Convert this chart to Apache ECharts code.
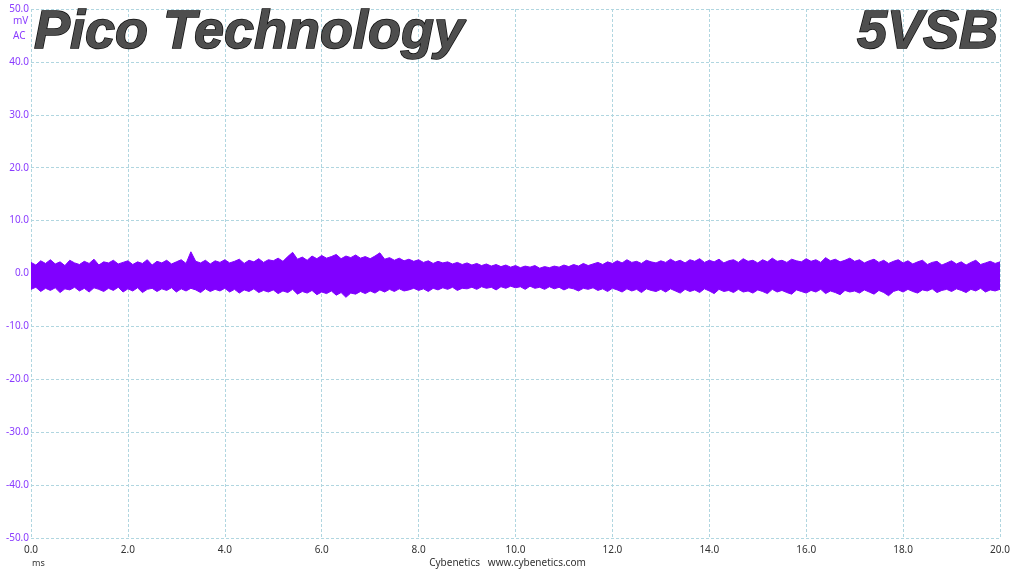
<!DOCTYPE html>
<html>
<head>
<meta charset="utf-8">
<script src="https://cdn.jsdelivr.net/npm/echarts@6/dist/echarts.min.js"></script>
<style>
html,body{margin:0;padding:0;background:#fff;}
#chart{width:1015px;height:571px;}
</style>
</head>
<body>
<div id="chart"></div>
<script>
// Sample spacing of the envelope readings (ms)
const sampleStepMs = 0.1;
// Upper envelope of the ripple band (mV), read every 0.1 ms from 0 to 20 ms
const upperEnvelope = [
  2.1,1.6,2.4,1.9,2.6,1.8,2.2,1.5,2.5,2.0,
  1.7,2.3,1.9,2.7,1.6,2.2,2.0,2.5,1.8,2.1,
  2.4,1.7,2.2,1.9,2.6,1.6,2.3,2.0,2.5,1.8,
  2.2,2.6,1.9,4.1,2.3,2.0,2.5,1.8,2.4,2.1,
  2.6,2.0,2.3,2.7,1.9,2.5,2.2,2.8,2.1,2.6,
  2.4,2.9,2.3,3.2,4.0,2.7,3.1,2.5,3.3,2.8,
  3.4,2.9,3.2,3.6,2.8,3.3,3.0,3.5,2.9,3.2,
  2.8,3.3,3.9,2.7,3.0,2.5,2.9,2.4,2.7,2.3,
  2.6,2.1,2.4,1.9,2.3,2.0,2.2,1.8,2.1,1.7,
  2.0,1.6,1.9,1.5,1.8,1.4,1.7,1.3,1.6,1.2,
  1.5,1.1,1.4,1.2,1.5,1.0,1.3,1.1,1.4,1.2,
  1.6,1.3,1.7,1.4,1.9,1.5,1.8,2.1,1.7,2.2,
  1.9,2.4,2.0,2.6,2.1,2.3,1.9,2.5,2.2,2.0,
  2.4,2.1,2.7,2.2,2.5,2.0,2.6,2.3,2.8,2.1,
  2.5,2.2,2.7,2.0,2.4,2.6,2.1,2.8,2.3,2.5,
  2.0,2.6,2.2,2.9,2.3,2.5,2.1,2.7,2.4,2.2,
  2.8,2.3,2.6,2.1,3.0,2.4,2.7,2.2,2.5,2.9,
  2.3,2.6,2.0,2.4,2.7,2.1,2.5,1.9,2.3,2.6,
  2.0,2.4,1.8,2.2,2.5,1.7,2.1,2.3,1.6,2.0,
  2.4,1.8,2.2,1.6,2.1,2.5,1.7,2.0,2.3,1.9,
  2.2
];
// Lower envelope of the ripple band (mV)
const lowerEnvelope = [
  -3.0,-2.6,-3.4,-2.8,-3.2,-2.7,-3.6,-2.9,-3.1,-2.6,
  -3.3,-2.8,-3.5,-2.7,-3.0,-3.4,-2.8,-3.2,-2.6,-3.5,
  -2.9,-3.3,-2.7,-3.6,-3.0,-2.8,-3.4,-2.9,-3.2,-2.7,
  -3.5,-2.9,-3.3,-2.8,-3.1,-3.6,-2.9,-3.4,-3.0,-3.3,
  -2.8,-3.5,-3.0,-3.7,-3.1,-3.4,-2.9,-3.6,-3.2,-3.5,
  -3.1,-3.8,-3.3,-3.6,-3.0,-3.9,-3.4,-3.7,-3.2,-4.0,
  -3.5,-3.8,-3.3,-4.1,-3.6,-4.5,-3.7,-3.9,-3.4,-3.8,
  -3.3,-3.7,-3.1,-3.5,-3.0,-3.4,-2.9,-3.3,-3.1,-2.8,
  -3.2,-2.9,-3.4,-2.8,-3.1,-2.7,-3.0,-2.6,-3.2,-2.8,
  -2.9,-2.6,-3.0,-2.5,-2.8,-2.6,-3.1,-2.5,-2.8,-2.4,
  -2.7,-2.5,-3.0,-2.4,-2.8,-2.6,-3.0,-2.5,-2.9,-2.6,
  -3.1,-2.7,-2.9,-3.3,-2.8,-3.0,-2.7,-3.2,-2.9,-3.4,
  -2.8,-3.1,-3.5,-2.9,-3.3,-3.0,-3.6,-2.9,-3.2,-3.4,
  -3.0,-3.5,-2.9,-3.3,-3.7,-3.0,-3.4,-3.1,-3.6,-2.9,
  -3.3,-3.8,-3.0,-3.4,-3.2,-3.6,-3.0,-3.5,-3.3,-3.7,
  -3.1,-3.4,-3.8,-3.0,-3.5,-3.2,-3.6,-3.9,-3.1,-3.4,
  -3.7,-3.2,-3.5,-3.0,-3.8,-3.3,-3.6,-4.0,-3.2,-3.5,
  -3.3,-3.7,-3.1,-3.5,-3.9,-3.2,-3.6,-4.2,-3.4,-3.1,
  -3.5,-3.0,-3.4,-3.7,-3.1,-3.3,-2.9,-3.6,-3.2,-3.0,
  -3.4,-2.9,-3.2,-3.6,-3.0,-3.3,-2.8,-3.5,-3.1,-3.3,
  -3.0
];
const xMin = 0, xMax = 20, xStep = 2;
const yMin = -50, yMax = 50, yStep = 10;
const titleLeft = 'Pico Technology';
const titleRight = '5VSB';
const yUnit = 'mV';
const yCoupling = 'AC';
const xUnit = 'ms';
const credit = 'Cybenetics   www.cybenetics.com';

const bandData = upperEnvelope.map((u, i) => [+(i * sampleStepMs).toFixed(2), u, lowerEnvelope[i]]);

const purple = '#8000ff';
const labelPurple = '#8a3cff';
const gridColor = '#b0d6e0';

const chart = echarts.init(document.getElementById('chart'), null, {renderer: 'canvas'});

const titleStyle = {
  fill: '#4e4e4e', stroke: '#0e0e0e', lineWidth: 1.5,
  font: 'italic bold 54px "Liberation Sans"', textVerticalAlign: 'middle',
  shadowColor: 'rgba(0,0,0,0.35)', shadowBlur: 3, shadowOffsetX: 3, shadowOffsetY: 3
};

const option = {
  animation: false,
  backgroundColor: '#ffffff',
  grid: {left: 31, right: 15, top: 9, bottom: 33, containLabel: false},
  xAxis: {
    type: 'value', min: xMin, max: xMax, interval: xStep,
    axisLine: {show: false}, axisTick: {show: false},
    axisLabel: {color: '#333', fontSize: 10, fontFamily: 'Noto Sans', margin: 7,
      formatter: v => v.toFixed(1)},
    splitLine: {show: true, lineStyle: {color: gridColor, type: [3, 2], width: 1}}
  },
  yAxis: {
    type: 'value', min: yMin, max: yMax, interval: yStep,
    axisLine: {show: false}, axisTick: {show: false},
    axisLabel: {color: labelPurple, fontSize: 10, fontFamily: 'Noto Sans', margin: 2,
      formatter: v => v.toFixed(1)},
    splitLine: {show: true, lineStyle: {color: gridColor, type: [3, 2], width: 1}}
  },
  graphic: [
    {type: 'text', left: 13, top: 16, style: {text: yUnit, fill: labelPurple, font: '10px "Noto Sans"', textAlign: 'left'}},
    {type: 'text', left: 13, top: 31, style: {text: yCoupling, fill: labelPurple, font: '10px "Noto Sans"'}},
    {type: 'text', left: 32, top: 559, style: {text: xUnit, fill: '#333', font: '9px "Noto Sans"'}},
    {type: 'text', left: 'center', top: 558, style: {text: credit, fill: '#333', font: '10px "Noto Sans"'}},
    {type: 'text', x: 34, y: 33, z: 100, style: Object.assign({text: titleLeft}, titleStyle)},
    {type: 'text', x: 998, y: 33, z: 100, style: Object.assign({text: titleRight, textAlign: 'right'}, titleStyle)}
  ],
  series: [{
    type: 'custom',
    data: bandData,
    encode: {x: 0, y: [1, 2]},
    clip: true,
    renderItem: function (params, api) {
      if (params.dataIndex !== 0) return null;
      const pts = [];
      for (let i = 0; i < bandData.length; i++) pts.push(api.coord([bandData[i][0], bandData[i][1]]));
      for (let i = bandData.length - 1; i >= 0; i--) pts.push(api.coord([bandData[i][0], bandData[i][2]]));
      return {
        type: 'polygon',
        shape: {points: pts},
        style: {fill: purple, stroke: purple, lineWidth: 1}
      };
    }
  }]
};
chart.setOption(option);
</script>
</body>
</html>
